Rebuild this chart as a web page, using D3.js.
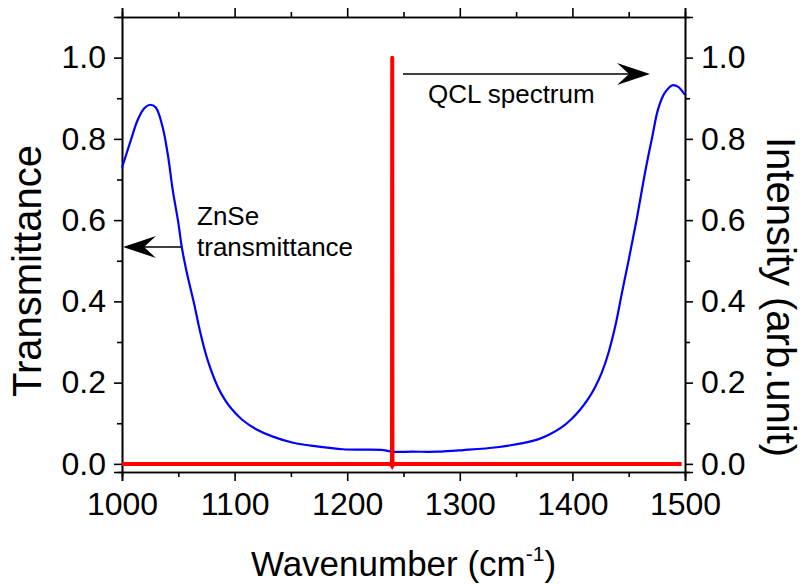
<!DOCTYPE html>
<html>
<head>
<meta charset="utf-8">
<script src="https://cdn.jsdelivr.net/npm/d3@7"></script>
<style>
  html, body { margin: 0; padding: 0; background: #fff; }
  svg { display: block; font-family: "Liberation Sans", Arial, Helvetica, sans-serif; }
</style>
</head>
<body>
<svg id="chart" width="804" height="584"></svg>
<script>
// ---------- data ----------
const znseWavenumber = [1000, 1008, 1014, 1020, 1025, 1030, 1036, 1041, 1045, 1050, 1053, 1057, 1061, 1064, 1069, 1076, 1085, 1092, 1098, 1107, 1120, 1134, 1152, 1173, 1196, 1214, 1232, 1240, 1258, 1280, 1303, 1333, 1356, 1370, 1380, 1390, 1399, 1407, 1414, 1420, 1426, 1432, 1438, 1444, 1450, 1457, 1465, 1471, 1476, 1482, 1489, 1494, 1500];
const znseTransmittance = [0.729, 0.798, 0.847, 0.876, 0.884, 0.877, 0.830, 0.756, 0.675, 0.594, 0.535, 0.478, 0.430, 0.395, 0.330, 0.256, 0.190, 0.155, 0.133, 0.108, 0.084, 0.067, 0.052, 0.043, 0.036, 0.035, 0.034, 0.030, 0.030, 0.030, 0.034, 0.041, 0.051, 0.061, 0.073, 0.089, 0.110, 0.134, 0.160, 0.188, 0.224, 0.273, 0.338, 0.421, 0.502, 0.601, 0.724, 0.806, 0.872, 0.913, 0.932, 0.928, 0.908];

const qclWavenumber = [1000, 1239.8, 1240, 1240.2, 1497];
const qclIntensity  = [0, 0, 1.0, 0, 0];

const xMajorTicks = [1000, 1100, 1200, 1300, 1400, 1500];
const xMinorTicks = [1050, 1150, 1250, 1350, 1450];
const yMajorTicks = [0.0, 0.2, 0.4, 0.6, 0.8, 1.0];
const yMinorTicks = [0.1, 0.3, 0.5, 0.7, 0.9];

const xTitle = "Wavenumber (cm";
const yLeftTitle = "Transmittance";
const yRightTitle = "Intensity (arb.unit)";

// ---------- layout ----------
const L = 122, R = 685, T = 17, B = 472;
const svg = d3.select("#chart");

const x = d3.scaleLinear().domain([1000, 1500]).range([L, R]);
const y = d3.scaleLinear().domain([-0.02, 1.1]).range([B, T]);
const y2 = d3.scaleLinear().domain([-0.02, 1.1]).range([B, T]);

const tickFont = 32;

function styleAxis(g) {
  g.select(".domain").attr("stroke", "#000").attr("stroke-width", 1.6);
  g.selectAll(".tick line").attr("stroke", "#000").attr("stroke-width", 1.6);
  g.selectAll(".tick text").attr("fill", "#000").attr("font-size", tickFont)
    .attr("font-family", "Liberation Sans, Arial, sans-serif");
  g.attr("font-size", null).attr("font-family", null);
}

// bottom axis
svg.append("g").attr("transform", `translate(0,${B})`)
  .call(d3.axisBottom(x).tickValues(xMajorTicks).tickSize(9).tickPadding(11).tickFormat(d3.format("d")))
  .call(styleAxis);
svg.append("g").attr("transform", `translate(0,${B})`)
  .call(d3.axisBottom(x).tickValues(xMinorTicks).tickSize(5).tickFormat(""))
  .call(styleAxis);
// top axis
svg.append("g").attr("transform", `translate(0,${T})`)
  .call(d3.axisTop(x).tickValues(xMajorTicks).tickSize(9).tickFormat(""))
  .call(styleAxis);
svg.append("g").attr("transform", `translate(0,${T})`)
  .call(d3.axisTop(x).tickValues(xMinorTicks).tickSize(5).tickFormat(""))
  .call(styleAxis);
// left axis
svg.append("g").attr("transform", `translate(${L},0)`)
  .call(d3.axisLeft(y).tickValues(yMajorTicks).tickSize(8).tickPadding(8).tickFormat(d3.format(".1f")))
  .call(styleAxis);
svg.append("g").attr("transform", `translate(${L},0)`)
  .call(d3.axisLeft(y).tickValues(yMinorTicks).tickSize(5).tickFormat(""))
  .call(styleAxis);
// right axis
svg.append("g").attr("transform", `translate(${R},0)`)
  .call(d3.axisRight(y2).tickValues(yMajorTicks).tickSize(8).tickPadding(8).tickFormat(d3.format(".1f")))
  .call(styleAxis);
svg.append("g").attr("transform", `translate(${R},0)`)
  .call(d3.axisRight(y2).tickValues(yMinorTicks).tickSize(5).tickFormat(""))
  .call(styleAxis);

// ---------- series ----------
const znse = znseWavenumber.map((w, i) => [w, znseTransmittance[i]]);
svg.append("path").datum(znse)
  .attr("fill", "none").attr("stroke", "#0000ff").attr("stroke-width", 2.2)
  .attr("d", d3.line().x(d => x(d[0])).y(d => y(d[1])).curve(d3.curveCatmullRom.alpha(0.5)));

const qcl = qclWavenumber.map((w, i) => [w, qclIntensity[i]]);
svg.append("path").datum(qcl)
  .attr("fill", "none").attr("stroke", "#ff0000").attr("stroke-width", 4)
  .attr("stroke-linejoin", "round")
  .attr("d", d3.line().x(d => x(d[0])).y(d => y2(d[1])));
// small marker at base of peak
const peakIdx = qclIntensity.indexOf(d3.max(qclIntensity));
svg.append("path")
  .attr("d", d3.symbol().type(d3.symbolDiamond).size(45)())
  .attr("transform", `translate(${x(qclWavenumber[peakIdx])},${y2(0)})`)
  .attr("fill", "#ff0000");

// ---------- arrows ----------
function arrowHead(tx, ty, dir) {
  const p = [[0, 0], [-33, -11], [-21, 0], [-33, 11]].map(([a, b]) => [tx + dir * a, ty + b]);
  svg.append("path").attr("d", "M" + p.map(q => q.join(",")).join("L") + "Z").attr("fill", "#000");
}
svg.append("line").attr("x1", 403).attr("y1", 74).attr("x2", 630).attr("y2", 74)
  .attr("stroke", "#000").attr("stroke-width", 1.6);
arrowHead(650, 74, 1);
svg.append("line").attr("x1", 181).attr("y1", 247).attr("x2", 140).attr("y2", 247)
  .attr("stroke", "#000").attr("stroke-width", 1.6);
arrowHead(123, 247, -1);

// ---------- annotation text ----------
const annFont = 26;
svg.append("text").attr("x", 428).attr("y", 103).attr("font-size", annFont).text("QCL spectrum");
svg.append("text").attr("x", 197).attr("y", 225).attr("font-size", annFont).text("ZnSe");
svg.append("text").attr("x", 197).attr("y", 256).attr("font-size", annFont).text("transmittance");

// ---------- axis titles ----------
const xt = svg.append("text").attr("x", (L + R) / 2).attr("y", 576)
  .attr("text-anchor", "middle").attr("font-size", 35);
xt.append("tspan").text(xTitle);
xt.append("tspan").attr("font-size", 21).attr("dy", -15).text("-1");
xt.append("tspan").attr("dy", 15).text(")");

svg.append("text").attr("transform", `translate(41,271) rotate(-90)`)
  .attr("text-anchor", "middle").attr("font-size", 40).text(yLeftTitle);
svg.append("text").attr("transform", `translate(767,297) rotate(90)`)
  .attr("text-anchor", "middle").attr("font-size", 40).text(yRightTitle);
</script>
</body>
</html>
